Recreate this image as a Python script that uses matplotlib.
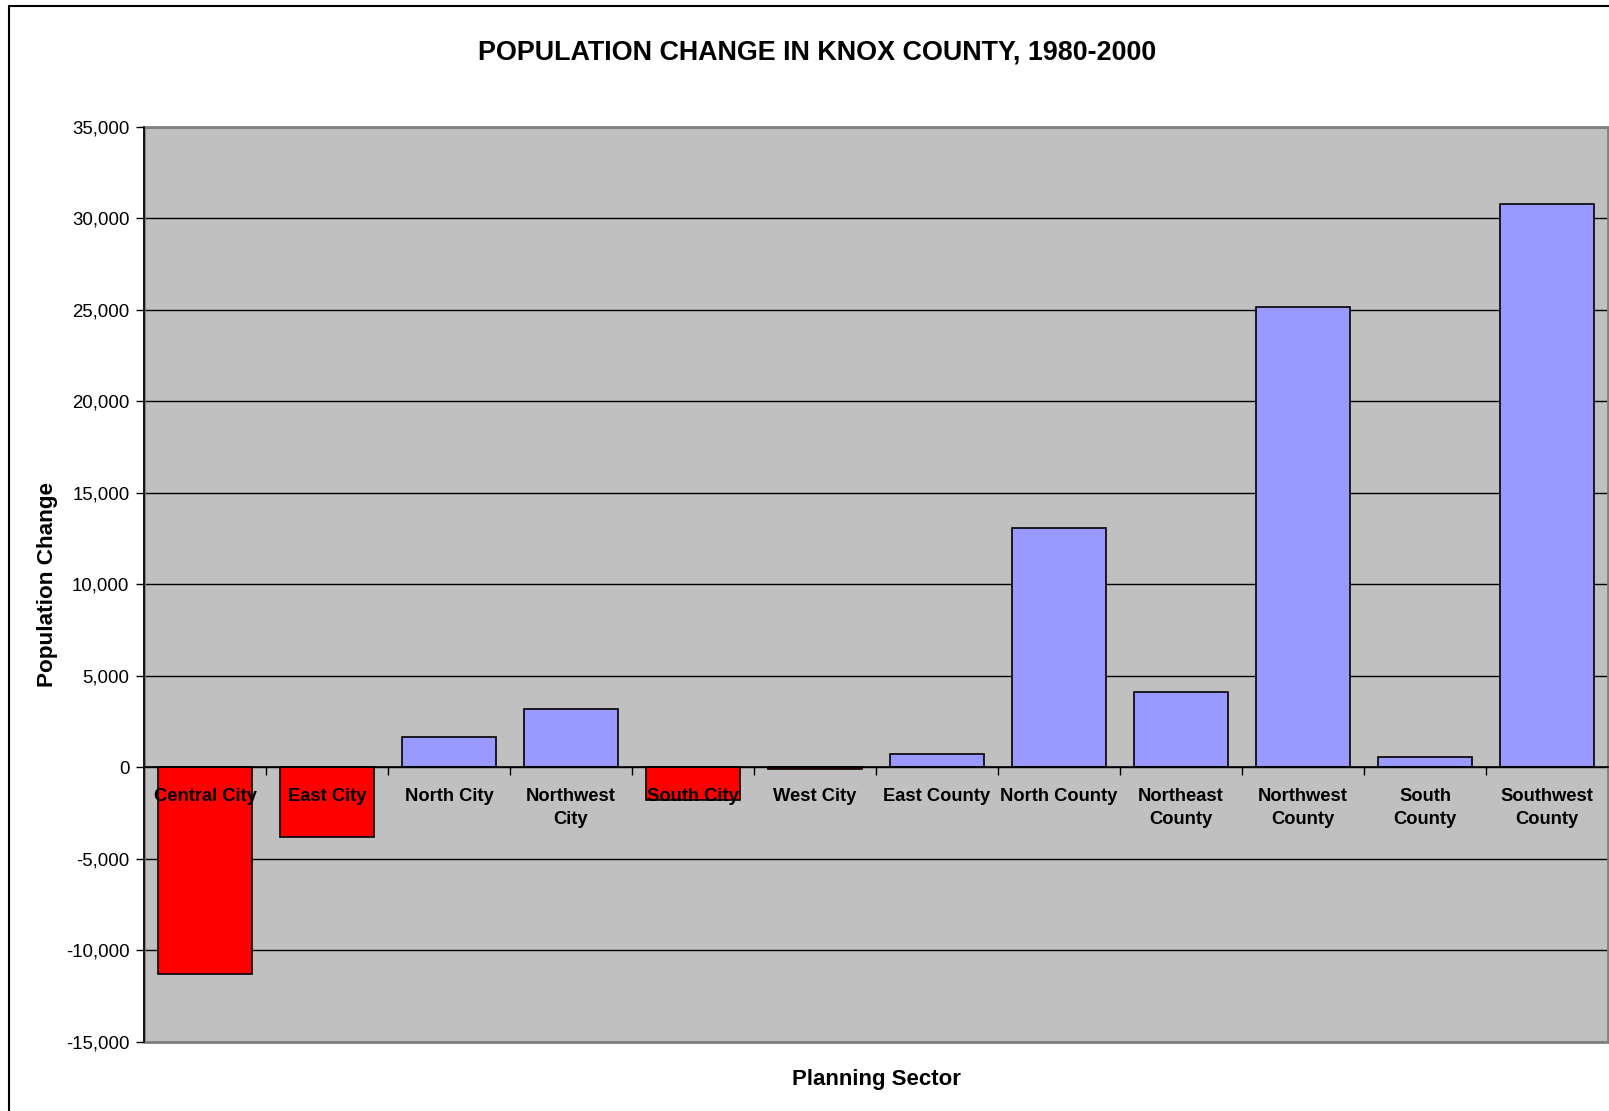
import matplotlib
matplotlib.use("Agg")
import matplotlib.pyplot as plt
from matplotlib.patches import Rectangle
from matplotlib.ticker import FuncFormatter, FixedLocator
import numpy as np

plt.rcParams['font.family'] = ['Liberation Sans', 'DejaVu Sans']

# Population change by planning sector, 1980-2000
sectors = ["Central City", "East City", "North City", "Northwest\nCity", "South City",
           "West City", "East County", "North County", "Northeast\nCounty",
           "Northwest\nCounty", "South\nCounty", "Southwest\nCounty"]
change = [-11290, -3780, 1650, 3200, -1790, -80, 750, 13100, 4130, 25170, 590, 30780]
y_ticks = list(range(-15000, 35001, 5000))

W, H = 1609, 1111
fig = plt.figure(figsize=(W / 100, H / 100), dpi=100)
fig.patch.set_facecolor('white')

# plot area in pixel bounds
left, right, top, bottom = 144, 1608, 127, 1042
ax = fig.add_axes([left / W, 1 - bottom / H, (right - left) / W, (bottom - top) / H])
ax.set_facecolor('#C0C0C0')

x = np.arange(len(sectors))
colors = ['#FF0000' if v < 0 else '#9999FF' for v in change]
ax.bar(x, change, width=0.77, color=colors, edgecolor='black', linewidth=1.2, zorder=3)

ax.set_xlim(-0.5, len(sectors) - 0.5)
ax.set_ylim(-15000, 35000)
ax.set_yticks(y_ticks)
ax.yaxis.set_major_formatter(FuncFormatter(lambda v, p: f"{int(v):,}"))
ax.tick_params(axis='y', direction='out', length=6, width=1, pad=4.5, labelsize=13.4)
ax.yaxis.grid(True, color='black', linewidth=1)
ax.set_axisbelow(True)

# category axis sits on the zero line, with ticks between categories
ax.spines['bottom'].set_position(('data', 0))
ax.spines['bottom'].set_color('black')
ax.spines['bottom'].set_linewidth(1.2)
ax.spines['bottom'].set_zorder(4)
ax.xaxis.set_major_locator(FixedLocator(x[:-1] + 0.5))
ax.tick_params(axis='x', direction='out', length=6, width=1, labelbottom=False)
ax.spines['left'].set_color('black')
ax.spines['left'].set_linewidth(1.2)
for s in ('top', 'right'):
    ax.spines[s].set_visible(False)

# plot area border
ax.add_patch(Rectangle((0, 0), 1, 1, transform=ax.transAxes, fill=False,
                       edgecolor='#808080', linewidth=2, clip_on=False, zorder=2))

for xi, name in zip(x, sectors):
    ax.annotate(name, xy=(xi, 0), xytext=(0, -14.8), textcoords='offset points',
                ha='center', va='top', fontsize=13.2, fontweight='bold',
                linespacing=1.45, zorder=5, annotation_clip=False)

ax.set_xlabel("Planning Sector", fontsize=16, fontweight='bold')
ax.xaxis.set_label_coords(0.5, -0.0295)
ax.set_ylabel("Population Change", fontsize=16.2, fontweight='bold')
ax.yaxis.set_label_coords(-(left - 57.5) / (right - left), 0.5)

fig.text(817 / W, 1 - 53 / H, "POPULATION CHANGE IN KNOX COUNTY, 1980-2000",
         ha='center', va='center', fontsize=19.4, fontweight='bold')

# outer chart frame
fig.add_artist(Rectangle((9 / W, -0.5), 1.5, (1 - 6 / H) + 0.5, transform=fig.transFigure,
                         fill=False, edgecolor='black', linewidth=1.5))

fig.savefig("out.png", dpi=100)
